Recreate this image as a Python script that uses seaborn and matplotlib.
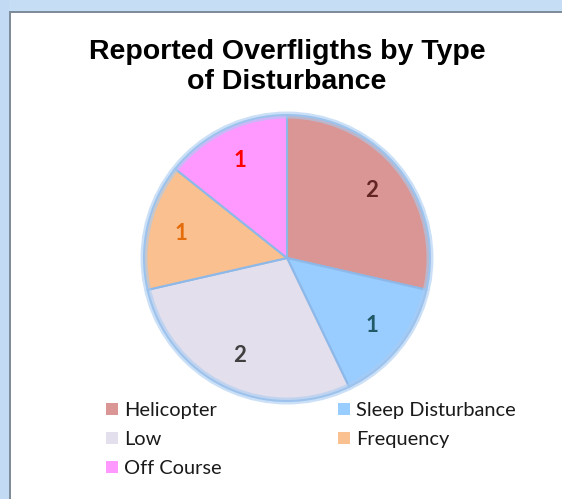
"""
Pie chart: reported overflights by type of disturbance.
"""
import matplotlib

matplotlib.use("Agg")
import matplotlib.pyplot as plt
from matplotlib.patches import Circle, Rectangle
import seaborn as sns

categories = ["Helicopter", "Sleep Disturbance", "Low", "Frequency", "Off Course"]
counts = [2, 1, 2, 1, 1]
slice_colors = ["#D99694", "#99CCFF", "#E4DFEC", "#FAC090", "#FF99FF"]
label_colors = ["#632523", "#215967", "#404040", "#E46C0A", "#FF0000"]
title = "Reported Overfligths by Type\nof Disturbance"

W, H = 562, 499


def main() -> None:
    sns.set_theme(style="white")
    plt.rcParams["font.family"] = ["Liberation Sans", "DejaVu Sans"]

    fig = plt.figure(figsize=(W / 100, H / 100), dpi=100)
    fig.patch.set_facecolor("white")

    # window-like frame at top/left
    fig.patches.append(Rectangle((0, 1 - 12 / H), 1, 12 / H, transform=fig.transFigure,
                                 facecolor="#C5DDF5", edgecolor="none", zorder=0))
    fig.patches.append(Rectangle((0, 0), 9 / W, 1, transform=fig.transFigure,
                                 facecolor="#C2DAF3", edgecolor="none", zorder=0))
    fig.patches.append(Rectangle((9 / W, 0), 2 / W, 1 - 12 / H, transform=fig.transFigure,
                                 facecolor="#7F8C99", edgecolor="none", zorder=1))
    fig.patches.append(Rectangle((9 / W, 1 - 13 / H), 1, 2 / H, transform=fig.transFigure,
                                 facecolor="#7F8C99", edgecolor="none", zorder=1))

    fig.text(287 / W, 1 - 67 / H, title, ha="center", va="center",
             fontsize=20.5, fontweight="bold", color="black", linespacing=1.2)

    cx, cy, half = 287, H - 258, 150
    ax = fig.add_axes([(cx - half) / W, (cy - half) / H, 2 * half / W, 2 * half / H])
    wedges, _, autotexts = ax.pie(
        counts,
        colors=slice_colors,
        startangle=90,
        counterclock=False,
        autopct=lambda p: f"{p * sum(counts) / 100:.0f}",
        pctdistance=0.76,
        wedgeprops={"edgecolor": "#8DB8E8", "linewidth": 1.5},
        textprops={"fontsize": 16, "family": "Lato", "fontweight": "bold"},
    )
    for t, c in zip(autotexts, label_colors):
        t.set_color(c)
    # soft blue glow around the rim
    ax.add_patch(Circle((0, 0), 1.0, fill=False, edgecolor="#A9CCF2", linewidth=5,
                        alpha=0.6, zorder=3))
    lim = half / 143
    ax.set_xlim(-lim, lim)
    ax.set_ylim(-lim, lim)
    ax.set_aspect("equal")
    ax.axis("off")

    order = [0, 2, 4, 1, 3]
    leg = fig.legend(
        [wedges[i] for i in order],
        [categories[i] for i in order],
        ncol=2,
        loc="upper left",
        bbox_to_anchor=(106 / W, 1 - 402 / H),
        frameon=False,
        prop={"family": "Lato", "size": 14.4},
        handlelength=0.6,
        handleheight=0.6,
        handletextpad=0.3,
        columnspacing=5.8,
        labelspacing=0.6,
        borderpad=0,
        borderaxespad=0,
    )
    for h in leg.legend_handles:
        h.set_edgecolor("none")
    for t in leg.get_texts():
        t.set_color("#1a1a1a")

    fig.savefig("out.png", dpi=100)
    plt.close(fig)


if __name__ == "__main__":
    main()
